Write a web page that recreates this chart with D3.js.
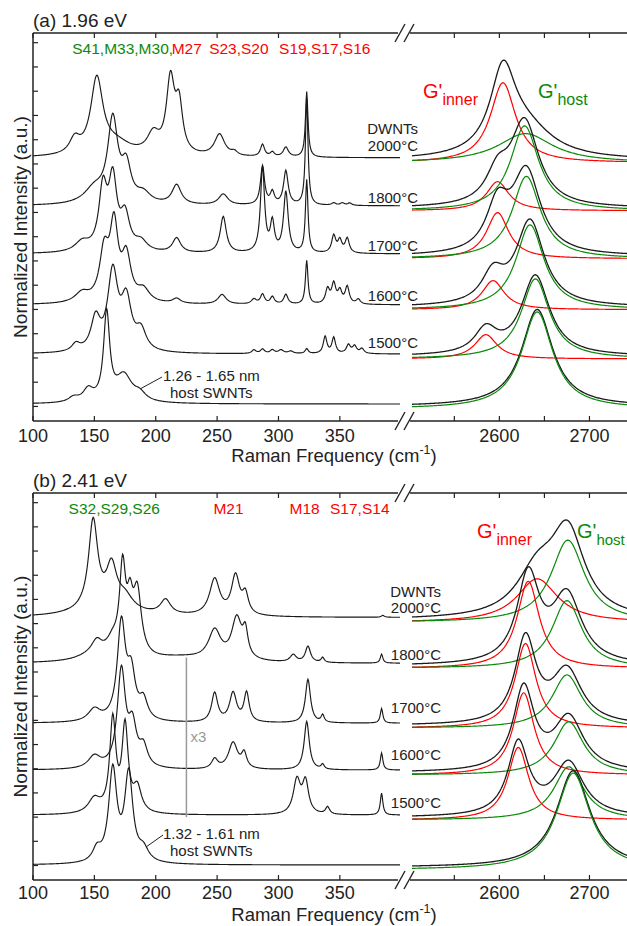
<!DOCTYPE html>
<html><head><meta charset="utf-8">
<script src="https://cdn.jsdelivr.net/npm/d3@7"></script>
<style>body{margin:0;background:#fff}text{font-family:"Liberation Sans",Arial,sans-serif}</style>
</head><body><svg id="c" width="627" height="926"></svg>
<script>
// ---------------- DATA ----------------
const lowTicks = [100,150,200,250,300,350];
const highTicks = [2600,2700];
const highMinorTicks = [2550,2650];
const panelTitles = ["(a) 1.96 eV","(b) 2.41 eV"];
const tempLabels = [["DWNTs","2000°C"],["1800°C"],["1700°C"],["1600°C"],["1500°C"]];
const hostLabelsA = ["1.26 - 1.65 nm","host SWNTs"];
const hostLabelsB = ["1.32 - 1.61 nm","host SWNTs"];
const assignA = [["S41,M33,M30,",132,"g"],["M27",213,"r"],["S23,S20",243.5,"r"],["S19,S17,S16",300.5,"r"]];
const assignB = [["S32,S29,S26",129,"g"],["M21",247,"r"],["M18",309,"r"],["S17,S14",342,"r"]];
// vertical offsets (a.u.) of each trace: 2000,1800,1700,1600,1500,host
const offsetsA = [102.5,82.7,62.9,41.9,21.6,1.0];
const offsetsB = [102.5,83.5,58.8,39.4,20.8,0.2];
// low-frequency RBM peaks [position cm-1, height a.u., FWHM cm-1]
const rbmA2000 = [[134,6,10],[152,31,12],[168,5,30],[198,8,12],[212,30,8],[219,19,7],[252,9,10],[264,1.5,6],[287,5,4],[295,1.8,4],[306,4,5],[323,27,2.5]];
const rbmA1800 = [[150,6,20],[165,34,10],[176,14,9],[190,4,14],[217,8,9],[255,4.5,9],[287,16,4],[295,5,4],[306,14,4.5],[323,44,2.5],[345,1,4],[352,1,4],[358,1,4]];
const rbmA1700 = [[140,4,14],[157,25,8],[165,28,8],[175,14,9],[188,4,12],[217,6,8],[255,15,6],[287,35,4],[295,12,4],[306,25,4.5],[323,30,2.5],[345,7,4],[350,5,4],[356,6,4]];
const rbmA1600 = [[140,4,14],[158,20,9],[166,30,8],[176,18,9],[190,5,12],[217,2,8],[254,4,8],[280,2,5],[287,4,4],[295,3,4],[306,4,4],[323,18,2.5],[340,6,4],[345,8,4],[350,5,4],[356,7,4],[365,2,4]];
const rbmA1500 = [[135,3,8],[151,13,9],[165,32,10],[176,20,10],[188,8,10],[280,1.5,4],[287,1.8,4],[295,1.5,4],[302,1.5,5],[310,1,5],[323,2,3],[338,7,3.5],[345,6.5,3.5],[357,3.5,4],[362,3,4],[368,2,4]];
const rbmAhost = [[133,2,10],[145,5,10],[160,36,6],[174,11,16],[187,3,12]];
const rbmB2000 = [[160,4,50],[149,36,9],[164,16,10],[175,5,15],[208,6,10],[248,15,10],[265,16,8],[273,8,6],[385,0.8,3]];
const rbmB1800 = [[150,3,30],[152,5,10],[165,6,12],[173,35,6],[179,18,6],[185,26,8],[220,2,60],[248,12,12],[266,17,10],[273,10,5],[312,3,6],[324,6.6,5],[336,2,3],[384,3.7,2.5]];
const rbmB1700 = [[150,5,12],[172,40,8],[180,18,8],[190,8,8],[248,12,6],[263,12,7],[274,12,5],[324,18,5],[336,3,3],[384,6,2.5]];
const rbmB1600 = [[150,5,12],[172,40,8],[181,16,8],[190,8,8],[248,4,6],[263,11,9],[272,6,5],[323,20,5],[336,2,3],[384,7,2.5]];
const rbmB1500 = [[150,6,12],[165,38,6],[175,35,6],[185,10,8],[315,14,7],[322,13,6],[340,3,4],[384,9,2.5]];
const rbmBhost = [[152,5,8],[165,38,8],[178,36,8],[190,5,10]];
// G' band fits [position, height, FWHM]; null = absent
const gInnerA = [[2604,33,34],[2598,12,30],[2598,19,30],[2593,12,30],[2585,10,30],null];
const gHostA  = [[2629,12,74],[2628,35,38],[2630,34,38],[2634,35,38],[2640,33,38],[2642,40,42]];
const gInnerB = [[2642,18,55],[2632,36,30],[2629,35,28],[2627,34,28],[2621,30,28],null];
const gHostB  = [[2676,34,45],[2675,28,40],[2675,22,40],[2677,22,40],[2677,22,40],[2682,40,45]];
const fitOffset = -2; // fit baseline relative to measured trace
const measOffset = -1; // measured trace relative to sum of fits
const x3Marker = [225,20,86]; // position, bottom, top (panel b)

// ---------------- DRAW ----------------
const svg = d3.select("#c");
const BLACK="#1a1a1a", RED="#ff0000", GREEN="#0a8a0a";
const xL = d3.scaleLinear().domain([100,399]).range([33,400]);
const xR = d3.scaleLinear().domain([2503,2745]).range([412,630]);
const lor = (x,p)=> p[1]/(1+Math.pow((x-p[0])/(p[2]/2),2));
const sumPeaks=(x,ps)=>ps.reduce((s,p)=>s+lor(x,p),0);

const panels = [
 {top:33,bottom:421,title:panelTitles[0],offs:offsetsA,rbm:[rbmA2000,rbmA1800,rbmA1700,rbmA1600,rbmA1500,rbmAhost],gi:gInnerA,gh:gHostA,assign:assignA,host:hostLabelsA,labX:418,labY:[134,151,203,251,301,348],hostTxt:[163,381],hostLine:[[140,389],[162,377]],gl:[423,538,98],tl:21,tt:41},
 {top:493,bottom:880,title:panelTitles[1],offs:offsetsB,rbm:[rbmB2000,rbmB1800,rbmB1700,rbmB1600,rbmB1500,rbmBhost],gi:gInnerB,gh:gHostB,assign:assignB,host:hostLabelsB,labX:441,labY:[597,613,660,713,760,808],hostTxt:[163,839],hostLine:[[146,847],[163,835]],gl:[477,577,538],tl:19,tt:41}
];

panels.forEach((P,pi)=>{
  const y = d3.scaleLinear().domain([-6,154]).range([P.bottom,P.top]);
  const g = svg.append("g");
  const lineL = d3.line().x(d=>xL(d[0])).y(d=>y(d[1]));
  const lineR = d3.line().x(d=>xR(d[0])).y(d=>y(d[1]));
  const xsL = d3.range(100,399.01,0.5);
  const xsR = d3.range(2503,2746,1);
  P.rbm.forEach((ps,i)=>{
    const data = xsL.map(x=>[x,P.offs[i]+sumPeaks(x,ps)]);
    g.append("path").attr("d",lineL(data)).attr("fill","none").attr("stroke",BLACK).attr("stroke-width",1.15);
  });
  P.offs.forEach((o,i)=>{
    const gi=P.gi[i], gh=P.gh[i];
    const meas = xsR.map(x=>[x,o+measOffset+(gi?lor(x,gi):0)+lor(x,gh)]);
    g.append("path").attr("d",lineR(meas)).attr("fill","none").attr("stroke",BLACK).attr("stroke-width",1.3);
    if(gi){
      g.append("path").attr("d",lineR(xsR.map(x=>[x,o+fitOffset+lor(x,gi)]))).attr("fill","none").attr("stroke",RED).attr("stroke-width",1.2);
    }
    g.append("path").attr("d",lineR(xsR.map(x=>[x,o+fitOffset+lor(x,gh)]))).attr("fill","none").attr("stroke",GREEN).attr("stroke-width",1.2);
  });
  const ax = svg.append("g").attr("stroke","#222").attr("stroke-width",1.5).attr("fill","none");
  ax.append("line").attr("x1",33).attr("x2",398).attr("y1",P.top).attr("y2",P.top);
  ax.append("line").attr("x1",33).attr("x2",398).attr("y1",P.bottom).attr("y2",P.bottom);
  ax.append("line").attr("x1",410).attr("x2",627).attr("y1",P.top).attr("y2",P.top);
  ax.append("line").attr("x1",410).attr("x2",627).attr("y1",P.bottom).attr("y2",P.bottom);
  ax.append("line").attr("x1",33).attr("x2",33).attr("y1",P.top).attr("y2",P.bottom);
  const tk = svg.append("g").attr("stroke","#222").attr("stroke-width",1.2);
  lowTicks.forEach(t=>{
    tk.append("line").attr("x1",xL(t)).attr("x2",xL(t)).attr("y1",P.bottom).attr("y2",P.bottom-5);
    tk.append("line").attr("x1",xL(t)).attr("x2",xL(t)).attr("y1",P.top).attr("y2",P.top+5);
  });
  highTicks.concat(highMinorTicks).forEach(t=>{
    tk.append("line").attr("x1",xR(t)).attr("x2",xR(t)).attr("y1",P.bottom).attr("y2",P.bottom-5);
    tk.append("line").attr("x1",xR(t)).attr("x2",xR(t)).attr("y1",P.top).attr("y2",P.top+5);
  });
  d3.range(0,151,10).forEach(t=>{
    tk.append("line").attr("x1",33).attr("x2",38).attr("y1",y(t)).attr("y2",y(t));
  });
  lowTicks.forEach(t=>svg.append("text").attr("x",xL(t)).attr("y",P.bottom+P.tl).attr("text-anchor","middle").attr("font-size",18).attr("fill","#222").text(t));
  highTicks.forEach(t=>svg.append("text").attr("x",xR(t)).attr("y",P.bottom+P.tl).attr("text-anchor","middle").attr("font-size",18).attr("fill","#222").text(t));
  const br = svg.append("g").attr("stroke","#222").attr("stroke-width",1.4);
  [P.top,P.bottom].forEach(yy=>{
    br.append("line").attr("x1",395).attr("y1",yy+9).attr("x2",405).attr("y2",yy-9);
    br.append("line").attr("x1",404).attr("y1",yy+9).attr("x2",414).attr("y2",yy-9);
  });
  const xt = svg.append("text").attr("x",334).attr("y",P.bottom+P.tt).attr("text-anchor","middle").attr("font-size",18.5).attr("fill","#222");
  xt.append("tspan").text("Raman Frequency (cm");
  xt.append("tspan").attr("font-size",12.5).attr("dy",-8).text("-1");
  xt.append("tspan").attr("dy",8).text(")");
  svg.append("text").attr("transform",`translate(27,${(P.top+P.bottom)/2}) rotate(-90)`).attr("text-anchor","middle").attr("font-size",19).attr("fill","#222").text("Normalized Intensity (a.u.)");
  svg.append("text").attr("x",33).attr("y",P.top-6).attr("font-size",19).attr("fill","#222").text(P.title);
  P.assign.forEach(a=>svg.append("text").attr("x",xL(a[1])).attr("y",P.top+21).attr("font-size",15.5).attr("fill",a[2]=="g"?GREEN:RED).text(a[0]));
  tempLabels.forEach((L,i)=>{
    if(i==0){
      svg.append("text").attr("x",P.labX).attr("y",P.labY[0]).attr("text-anchor","end").attr("font-size",15).attr("fill","#222").text(L[0]);
      svg.append("text").attr("x",P.labX).attr("y",P.labY[1]).attr("text-anchor","end").attr("font-size",15).attr("fill","#222").text(L[1]);
    } else {
      svg.append("text").attr("x",P.labX).attr("y",P.labY[i+1]).attr("text-anchor","end").attr("font-size",15).attr("fill","#222").text(L[0]);
    }
  });
  svg.append("line").attr("x1",P.hostLine[0][0]).attr("y1",P.hostLine[0][1]).attr("x2",P.hostLine[1][0]).attr("y2",P.hostLine[1][1]).attr("stroke","#222").attr("stroke-width",1);
  svg.append("text").attr("x",P.hostTxt[0]).attr("y",P.hostTxt[1]).attr("font-size",15).attr("fill","#222").text(P.host[0]);
  svg.append("text").attr("x",P.hostTxt[0]+7).attr("y",P.hostTxt[1]+17).attr("font-size",15).attr("fill","#222").text(P.host[1]);
  const gi = svg.append("text").attr("x",P.gl[0]).attr("y",P.gl[2]).attr("font-size",20).attr("fill",RED);
  gi.append("tspan").text("G'");
  gi.append("tspan").attr("font-size",16).attr("dy",7).text("inner");
  const gh = svg.append("text").attr("x",P.gl[1]).attr("y",P.gl[2]).attr("font-size",20).attr("fill",GREEN);
  gh.append("tspan").text("G'");
  gh.append("tspan").attr("font-size",pi==1?15:16).attr("dy",7).text("host");
  if(pi==1){
    svg.append("line").attr("x1",xL(x3Marker[0])).attr("x2",xL(x3Marker[0])).attr("y1",y(x3Marker[1])).attr("y2",y(x3Marker[2])).attr("stroke","#999").attr("stroke-width",1.5);
    svg.append("text").attr("x",xL(x3Marker[0])+4).attr("y",y((x3Marker[1]+x3Marker[2])/2)+5).attr("font-size",15).attr("fill","#999").text("x3");
  }
});
</script></body></html>
